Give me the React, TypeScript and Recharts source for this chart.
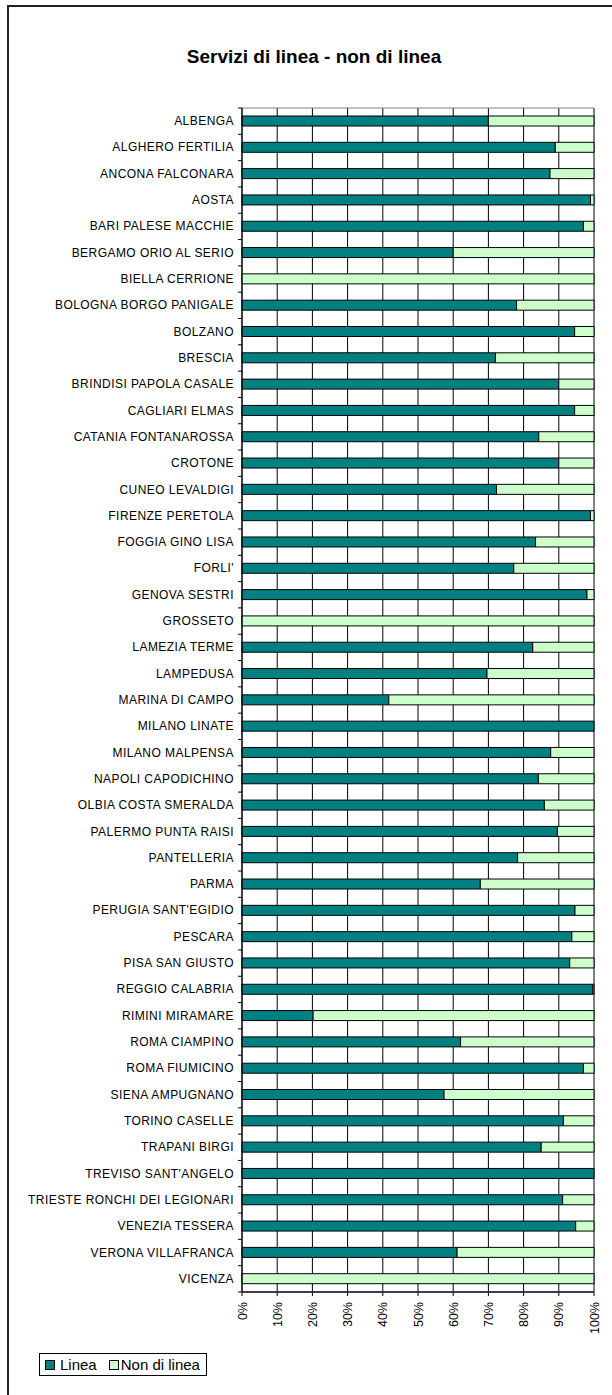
import React from 'react';
import { BarChart, Bar, XAxis, YAxis, CartesianGrid, ReferenceArea } from 'recharts';

const airports = [
  'ALBENGA', 'ALGHERO FERTILIA', 'ANCONA FALCONARA', 'AOSTA', 'BARI PALESE MACCHIE',
  'BERGAMO ORIO AL SERIO', 'BIELLA CERRIONE', 'BOLOGNA BORGO PANIGALE', 'BOLZANO', 'BRESCIA',
  'BRINDISI PAPOLA CASALE', 'CAGLIARI ELMAS', 'CATANIA FONTANAROSSA', 'CROTONE', 'CUNEO LEVALDIGI',
  'FIRENZE PERETOLA', 'FOGGIA GINO LISA', "FORLI'", 'GENOVA SESTRI', 'GROSSETO',
  'LAMEZIA TERME', 'LAMPEDUSA', 'MARINA DI CAMPO', 'MILANO LINATE', 'MILANO MALPENSA',
  'NAPOLI CAPODICHINO', 'OLBIA COSTA SMERALDA', 'PALERMO PUNTA RAISI', 'PANTELLERIA', 'PARMA',
  "PERUGIA SANT'EGIDIO", 'PESCARA', 'PISA SAN GIUSTO', 'REGGIO CALABRIA', 'RIMINI MIRAMARE',
  'ROMA CIAMPINO', 'ROMA FIUMICINO', 'SIENA AMPUGNANO', 'TORINO CASELLE', 'TRAPANI BIRGI',
  "TREVISO SANT'ANGELO", 'TRIESTE RONCHI DEI LEGIONARI', 'VENEZIA TESSERA', 'VERONA VILLAFRANCA', 'VICENZA',
];

// share of scheduled ("linea") traffic, percent
const linea = [
  70, 89, 87.5, 99, 97,
  60, 0, 78, 94.5, 72,
  90, 94.5, 84.3, 90, 72.3,
  99, 83.4, 77.2, 98, 0,
  82.6, 69.6, 41.7, 100, 87.7,
  84.2, 85.9, 89.6, 78.3, 67.7,
  94.6, 93.7, 93.1, 99.7, 20.2,
  62.1, 97, 57.4, 91.3, 85,
  100, 91.1, 94.8, 61.1, 0,
];

const ticks = [0, 10, 20, 30, 40, 50, 60, 70, 80, 90, 100];

const data = airports.map((name, i) => ({ name, linea: linea[i], nonLinea: 100 - linea[i] }));

const FONT = '"Liberation Sans", Arial, sans-serif';
const TOP = 108;
const BOTTOM = 1292;
const BAND = (BOTTOM - TOP) / airports.length;

const CatTick = (props: any) => {
  const { x, y, payload, index } = props;
  const half = payload && payload.offset ? payload.offset : BAND / 2;
  return (
    <g>
      <text x={x} y={y} dy={4} textAnchor="end" fontSize={12} letterSpacing={0.45} fontFamily={FONT} fill="#000">
        {payload.value}
      </text>
      {index === 0 && <line x1={x + 4} x2={x + 8} y1={y - half} y2={y - half} stroke="#000" />}
      <line x1={x + 4} x2={x + 8} y1={y + half} y2={y + half} stroke="#000" />
    </g>
  );
};

const PctTick = (props: any) => {
  const { x, y, payload } = props;
  return (
    <text
      x={x}
      y={y}
      dy={4.5}
      textAnchor="end"
      fontSize={12.5}
      fontFamily={FONT}
      fill="#000"
      transform={`rotate(-90, ${x}, ${y})`}
    >
      {`${payload.value}%`}
    </text>
  );
};

export default function App() {
  return (
    <div style={{ position: 'absolute', left: 0, top: 0, width: 612, height: 1395, overflow: 'hidden', background: '#fff' }}>
      <div
        style={{
          position: 'absolute', left: 7, top: 5, width: 640, height: 1420,
          border: '2px solid #222', boxSizing: 'border-box',
        }}
      />
      <div
        style={{
          position: 'absolute', left: 8, width: 612, top: 46, textAlign: 'center',
          fontFamily: FONT, fontWeight: 'bold', fontSize: 19, color: '#000',
        }}
      >
        Servizi di linea - non di linea
      </div>
      <div style={{ position: 'absolute', left: 0, top: 0 }}>
        <BarChart
          width={612}
          height={1395}
          data={data}
          layout="vertical"
          barSize={10}
          margin={{ top: TOP, right: 18, bottom: 1395 - BOTTOM - 60, left: 0 }}
        >
          <CartesianGrid vertical horizontal={false} stroke="#000" strokeWidth={1} />
          <ReferenceArea x1={0} x2={100} fill="none" stroke="#808080" strokeWidth={1} ifOverflow="visible" />
          <XAxis
            type="number"
            domain={[0, 100]}
            ticks={ticks}
            interval={0}
            height={60}
            tick={<PctTick />}
            tickSize={4}
            tickMargin={6}
            tickLine={{ stroke: '#000' }}
            axisLine={{ stroke: '#404040', strokeWidth: 2 }}
          />
          <YAxis
            type="category"
            dataKey="name"
            width={242}
            interval={0}
            tick={<CatTick />}
            tickSize={4}
            tickMargin={4}
            tickLine={false}
            axisLine={{ stroke: '#000', strokeWidth: 1 }}
          />
          <Bar dataKey="linea" stackId="a" fill="#008080" stroke="#000" strokeWidth={1} isAnimationActive={false} />
          <Bar dataKey="nonLinea" stackId="a" fill="#CCFFCC" stroke="#000" strokeWidth={1} isAnimationActive={false} />
        </BarChart>
      </div>
      <div
        style={{
          position: 'absolute', left: 39, top: 1353, width: 168, height: 23, padding: '0 0 0 5px',
          border: '1px solid #000', display: 'flex', alignItems: 'center',
          fontFamily: FONT, fontSize: 15, color: '#000', boxSizing: 'border-box', whiteSpace: 'nowrap',
        }}
      >
        <span style={{ width: 8, height: 8, background: '#008080', border: '1px solid #000', flex: 'none' }} />
        <span style={{ marginLeft: 5 }}>Linea</span>
        <span style={{ width: 8, height: 8, background: '#CCFFCC', border: '1px solid #000', flex: 'none', marginLeft: 12 }} />
        <span style={{ marginLeft: 2 }}>Non di linea</span>
      </div>
    </div>
  );
}
